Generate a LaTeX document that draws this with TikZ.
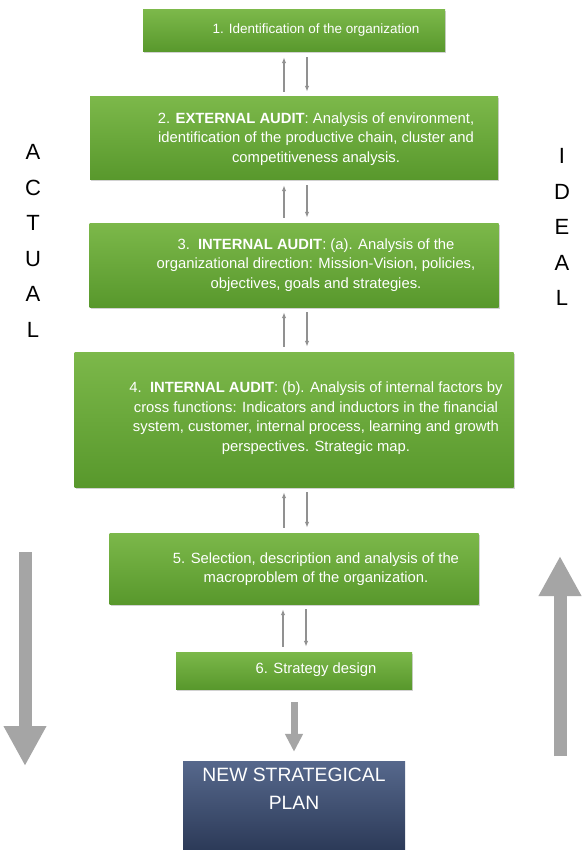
\documentclass[tikz,border=0pt]{standalone}
\usepackage{fontspec}
\setmainfont{Liberation Sans}
\usetikzlibrary{arrows.meta, shadows}
\definecolor{greentop}{RGB}{124, 184, 74}
\definecolor{greenbot}{RGB}{88, 152, 44}
\definecolor{bluetop}{RGB}{86, 104, 140}
\definecolor{bluebot}{RGB}{44, 58, 88}
\definecolor{biggray}{RGB}{165, 165, 165}
\definecolor{smallgray}{RGB}{145, 145, 145}

\tikzset{
  stagebox/.style={top color=greentop, bottom color=greenbot, draw=none,
    drop shadow={shadow xshift=1pt, shadow yshift=-1.5pt, opacity=0.35}},
  planbox/.style={top color=bluetop, bottom color=bluebot, draw=none},
  stagetext/.style={text=white, align=center, inner sep=0pt,
    font=\fontsize{14.8}{19.5}\selectfont},
  sidetext/.style={align=center, inner sep=0pt, font=\fontsize{22}{35.5}\selectfont},
  feedback/.style={smallgray, line width=1.2pt, -{Latex[length=6pt, width=4.5pt]},
    shorten >=5pt, shorten <=5pt},
  bigarrow/.style={biggray, line width=13pt, -{Triangle[length=40pt, width=40pt]}}
}

\begin{document}
\begin{tikzpicture}[x=1pt, y=-1pt]
  \useasboundingbox[fill=white] (0, 0) rectangle (584, 850);

  % stages
  \node[stagebox, minimum width=302, minimum height=42] (b1) at (294, 31) {};
  \node[stagebox, minimum width=408, minimum height=83] (b2) at (294, 138.5) {};
  \node[stagebox, minimum width=409, minimum height=84] (b3) at (294, 265) {};
  \node[stagebox, minimum width=439, minimum height=135] (b4) at (294, 419.5) {};
  \node[stagebox, minimum width=369, minimum height=71] (b5) at (294, 568.5) {};
  \node[stagebox, minimum width=236, minimum height=37] (b6) at (294, 670.5) {};
  \node[planbox, minimum width=222, minimum height=89] (plan) at (294, 805.5) {};

  \node[stagetext, font=\fontsize{13.5}{19.5}\selectfont] (t1) at (316, 30)
    {1. Identification of the organization};
  \node[stagetext] (t2) at (316, 139) {2. \textbf{EXTERNAL AUDIT}: Analysis of environment,\\
    identification of the productive chain, cluster and\\competitiveness analysis.};
  \node[stagetext] (t3) at (316, 265) {3.\ \ \textbf{INTERNAL AUDIT}: (a). Analysis of the\\
    organizational direction: Mission-Vision, policies,\\objectives, goals and strategies.};
  \node[stagetext] (t4) at (316, 418) {4.\ \ \textbf{INTERNAL AUDIT}: (b). Analysis of internal factors by\\
    cross functions: Indicators and inductors in the financial\\
    system, customer, internal process, learning and growth\\perspectives. Strategic map.};
  \node[stagetext] (t5) at (316, 569) {5. Selection, description and analysis of the\\
    macroproblem of the organization.};
  \node[stagetext] (t6) at (316, 670) {6. Strategy design};
  \node[stagetext, font=\fontsize{19.3}{28}\selectfont] (t7) at (294, 789) {NEW STRATEGICAL\\PLAN};

  % feedback between stages
  \draw[feedback] ([xshift=-10pt]b2.north) -- ([xshift=-10pt]b1.south);
  \draw[feedback] ([xshift=13pt]b1.south) -- ([xshift=13pt]b2.north);
  \draw[feedback] ([xshift=-10pt]b3.north) -- ([xshift=-10pt]b2.south);
  \draw[feedback] ([xshift=13pt]b2.south) -- ([xshift=13pt]b3.north);
  \draw[feedback] ([xshift=-10pt]b4.north) -- ([xshift=-10pt]b3.south);
  \draw[feedback] ([xshift=13pt]b3.south) -- ([xshift=13pt]b4.north);
  \draw[feedback] ([xshift=-10pt]b5.north) -- ([xshift=-10pt]b4.south);
  \draw[feedback] ([xshift=13pt]b4.south) -- ([xshift=13pt]b5.north);
  \draw[feedback] ([xshift=-11pt]b6.north) -- ([xshift=-11pt]b5.south);
  \draw[feedback] ([xshift=12pt]b5.south) -- ([xshift=12pt]b6.north);

  \draw[biggray, line width=7pt, -{Triangle[length=18pt, width=17pt]},
    shorten <=13pt, shorten >=9pt] (b6.south) -- (plan.north);

  % actual / ideal
  \node[sidetext] (actual) at (33, 241) {A\\C\\T\\U\\A\\L};
  \node[sidetext] (ideal) at (562, 227) {I\\D\\E\\A\\L};

  \coordinate (down top) at (25, 552);
  \coordinate (down end) at (25, 766);
  \coordinate (up bottom) at (560, 756);
  \coordinate (up end) at (560, 556);
  \draw[bigarrow] (down top) -- (down end);
  \draw[bigarrow] (up bottom) -- (up end);

\end{tikzpicture}
\end{document}
